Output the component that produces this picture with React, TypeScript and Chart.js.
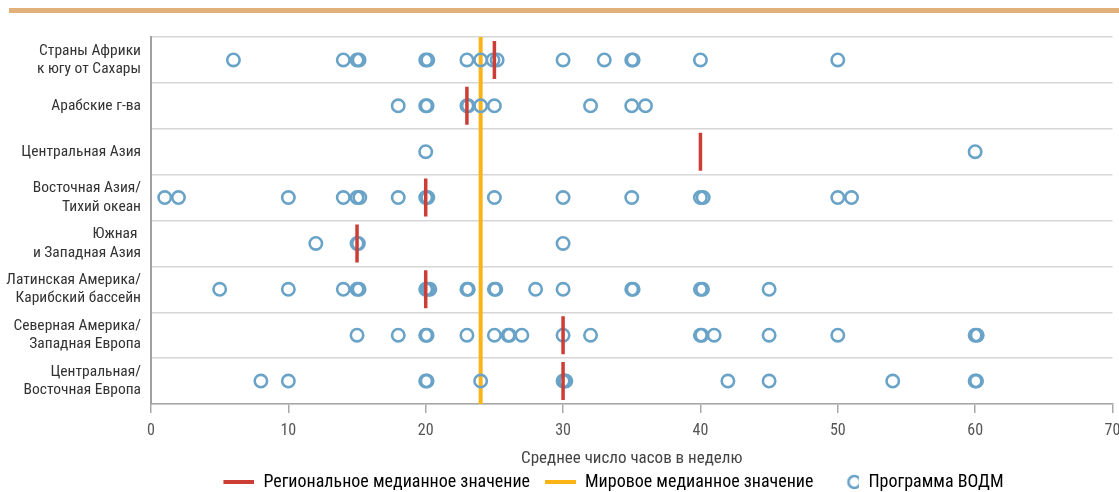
import React, { useEffect, useRef } from 'react';
import { Chart, registerables } from 'chart.js';

Chart.register(...registerables);

// ---- DATA ----
const regionLabels: string[][] = [
  ['Страны Африки', 'к югу от Сахары'],
  ['Арабские г-ва'],
  ['Центральная Азия'],
  ['Восточная Азия/', 'Тихий океан'],
  ['Южная ', 'и Западная Азия'],
  ['Латинская Америка/', 'Карибский бассейн'],
  ['Северная Америка/', 'Западная Европа'],
  ['Центральная/', 'Восточная Европа'],
];
const regionKeys = regionLabels.map((l) => l.join(' '));

const africaHours = [6, 14, 15, 15.15, 20, 20.15, 23, 24, 24.9, 25.2, 30, 33, 35, 35.1, 40, 50];
const arabHours = [18, 20, 20.1, 23, 23.1, 24, 25, 32, 35, 36];
const centralAsiaHours = [20, 60];
const eastAsiaHours = [1, 2, 10, 14, 15, 15.2, 18, 20, 20.15, 25, 30, 35, 40, 40.2, 50, 51];
const southWestAsiaHours = [12, 15, 15.1, 30];
const latinAmericaHours = [5, 10, 14, 15, 15.15, 20, 20.15, 20.3, 23, 23.1, 25, 25.1, 28, 30, 35, 35.1, 40, 40.15, 45];
const northAmericaHours = [15, 18, 20, 20.1, 23, 25, 26, 26.1, 27, 30, 32, 40, 40.1, 41, 45, 50, 60, 60.15];
const centralEuropeHours = [8, 10, 20, 20.1, 24, 30, 30.1, 30.2, 42, 45, 54, 60, 60.1];

const programHours = [
  africaHours,
  arabHours,
  centralAsiaHours,
  eastAsiaHours,
  southWestAsiaHours,
  latinAmericaHours,
  northAmericaHours,
  centralEuropeHours,
];

const regionalMedians = [25, 23, 40, 20, 15, 20, 30, 30];
const worldMedian = 24;

const xTicks = [0, 10, 20, 30, 40, 50, 60, 70];

const legendTexts = ['Региональное медианное значение', 'Мировое медианное значение', 'Программа ВОДМ'];
const xTitle = 'Среднее число часов в неделю';

// ---- STYLE ----
const RED = '#cc3d35';
const ORANGE = '#fbb316';
const BLUE = '#69a3c8';
const FONT = "'Liberation Sans Narrow', 'Roboto Condensed', Roboto, sans-serif";
const ICON_W = 44;
const LEGEND_TAIL = '            '; // trailing blank space to offset the centred legend like the original

function makeLineIcon(color: string) {
  const c = document.createElement('canvas');
  c.width = ICON_W;
  c.height = 4;
  const g = c.getContext('2d')!;
  g.fillStyle = color;
  g.fillRect(ICON_W - 31, 0, 31, 4);
  return c;
}

function makeCircleIcon(color: string) {
  const c = document.createElement('canvas');
  c.width = ICON_W;
  c.height = 16;
  const g = c.getContext('2d')!;
  g.strokeStyle = color;
  g.lineWidth = 2.6;
  g.beginPath();
  g.arc(ICON_W - 5, 8, 6, 0, Math.PI * 2);
  g.stroke();
  return c;
}

const worldMedianPlugin = {
  id: 'worldMedian',
  beforeDatasetsDraw(chart: any) {
    const { ctx, chartArea, scales } = chart;
    const x = scales.x.getPixelForValue(worldMedian);
    ctx.save();
    ctx.strokeStyle = ORANGE;
    ctx.lineWidth = 4;
    ctx.beginPath();
    ctx.moveTo(x, chartArea.top);
    ctx.lineTo(x, chartArea.bottom);
    ctx.stroke();
    ctx.restore();
  },
};

export default function App() {
  const ref = useRef<HTMLCanvasElement>(null);

  useEffect(() => {
    if (!ref.current) return;
    const redIcon = makeLineIcon(RED);
    const orangeIcon = makeLineIcon(ORANGE);
    const circleIcon = makeCircleIcon(BLUE);

    const programPoints: { x: number; y: string }[] = [];
    programHours.forEach((arr, i) => arr.forEach((v) => programPoints.push({ x: v, y: regionKeys[i] })));
    const medianPoints = regionalMedians.map((v, i) => ({ x: v, y: regionKeys[i] }));

    const chart = new Chart(ref.current, {
      type: 'scatter',
      data: {
        datasets: [
          {
            label: legendTexts[0],
            data: medianPoints,
            pointStyle: 'line',
            rotation: 90,
            radius: 19,
            borderWidth: 3.5,
            borderColor: RED,
            backgroundColor: RED,
          },
          {
            label: legendTexts[2],
            data: programPoints,
            pointStyle: 'circle',
            radius: 6.2,
            borderWidth: 2.6,
            borderColor: BLUE,
            backgroundColor: 'rgba(0,0,0,0)',
          },
        ],
      },
      options: {
        animation: false,
        responsive: false,
        devicePixelRatio: 1,
        layout: { padding: { top: 37, right: 0, left: 0, bottom: -9 } },
        plugins: {
          tooltip: { enabled: false },
          legend: {
            position: 'bottom',
            fullSize: false,
            labels: {
              usePointStyle: true,
              pointStyleWidth: ICON_W,
              boxHeight: 14,
              padding: 2,
              color: '#333',
              font: { family: FONT, size: 18 },
              generateLabels: () =>
                [
                  { text: legendTexts[0], pointStyle: redIcon, fillStyle: RED, strokeStyle: RED, lineWidth: 0, hidden: false, datasetIndex: 0 },
                  { text: legendTexts[1], pointStyle: orangeIcon, fillStyle: ORANGE, strokeStyle: ORANGE, lineWidth: 0, hidden: false },
                  { text: legendTexts[2] + LEGEND_TAIL, pointStyle: circleIcon, fillStyle: BLUE, strokeStyle: BLUE, lineWidth: 0, hidden: false, datasetIndex: 1 },
                ] as any,
            },
          },
        },
        scales: {
          x: {
            type: 'linear',
            min: 0,
            max: 70,
            afterBuildTicks: (s: any) => {
              s.ticks = xTicks.map((v) => ({ value: v }));
            },
            afterFit: (s: any) => {
              s.height = 67;
            },
            ticks: { color: '#555', font: { family: FONT, size: 16 }, padding: 8 },
            grid: { drawOnChartArea: false, drawTicks: true, tickLength: 9, color: '#a8a8a8', lineWidth: 1.5 },
            border: { color: '#a8a8a8', width: 1.5 },
            title: {
              display: true,
              text: xTitle,
              color: '#444',
              font: { family: FONT, size: 17 },
              padding: { top: 0, bottom: 2 },
            },
          },
          y: {
            type: 'category',
            labels: regionKeys,
            offset: true,
            afterFit: (s: any) => {
              s.width = 151;
            },
            ticks: {
              color: '#333',
              font: { family: FONT, size: 15.5, lineHeight: 1.2 },
              padding: 10,
              autoSkip: false,
              callback: (_v: any, i: number) => regionLabels[i],
            },
            grid: { offset: true, drawTicks: false, color: '#d6d6d6', lineWidth: 1.5 },
            border: { color: '#a0a0a0', width: 2 },
          },
        },
      } as any,
      plugins: [worldMedianPlugin],
    });
    return () => chart.destroy();
  }, []);

  return (
    <div style={{ position: 'absolute', left: 0, top: 0, width: 1119, height: 492, overflow: 'hidden', background: '#fff' }}>
      <canvas ref={ref} width={1135} height={492} style={{ position: 'absolute', left: 0, top: 0 }} />
      <div style={{ position: 'absolute', left: 9, top: 8, width: 1110, height: 5, background: '#e2b07b' }} />
    </div>
  );
}
